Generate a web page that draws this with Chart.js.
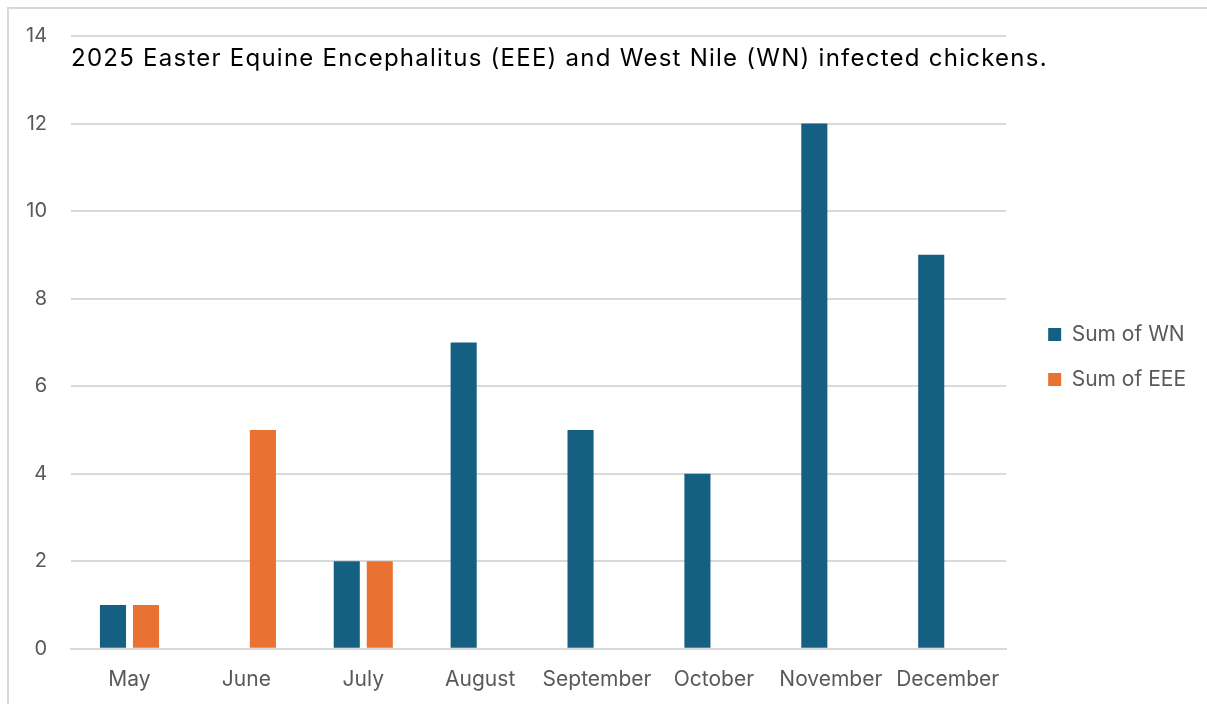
<!DOCTYPE html>
<html>
<head>
<meta charset="utf-8">
<script src="https://cdn.jsdelivr.net/npm/chart.js@4"></script>
<style>
  html, body { margin: 0; padding: 0; background: #fff; }
  #wrap { position: absolute; left: 0; top: 0; width: 1207px; height: 704px; }
  #frame { position: absolute; left: 7px; top: 7px; right: 0; bottom: 0;
           border-top: 2px solid #d9d9d9; border-left: 2px solid #d9d9d9; }
</style>
</head>
<body>
<div id="wrap">
  <div id="frame"></div>
  <canvas id="chart" width="1207" height="704"></canvas>
</div>
<script>
const months = ['May', 'June', 'July', 'August', 'September', 'October', 'November', 'December'];
const sumWN = [1, null, 2, 7, 5, 4, 12, 9];
const sumEEE = [1, 5, 2, null, null, null, null, null];
const yTicks = [0, 2, 4, 6, 8, 10, 12, 14];
const chartTitle = '2025 Easter Equine Encephalitus (EEE) and West Nile (WN) infected chickens.';

const fontName = 'Inter, "Open Sans", sans-serif';

// title sits inside the plot, just under the top gridline
const titleInside = {
    id: 'titleInside',
    afterDraw(chart) {
        const ctx = chart.ctx;
        const area = chart.chartArea;
        ctx.save();
        ctx.font = '24px ' + fontName;
        ctx.letterSpacing = '1.25px';
        ctx.fillStyle = '#000000';
        ctx.textBaseline = 'middle';
        ctx.textAlign = 'left';
        ctx.fillText(chartTitle, area.left, area.top + 23);
        ctx.restore();
    }
};

// empty axes, only used as spacers
function spacer(pos, size) {
    return {
        position: pos,
        display: true,
        grid: { display: false },
        ticks: { display: false },
        border: { display: false },
        afterFit(axis) {
            if (pos === 'top') axis.height = size; else axis.width = size;
        }
    };
}

const ctx = document.getElementById('chart');
new Chart(ctx, {
    type: 'bar',
    data: {
        labels: months,
        datasets: [
            {
                label: 'Sum of WN',
                data: sumWN,
                backgroundColor: '#156082',
                borderWidth: 0
            },
            {
                label: 'Sum of EEE',
                data: sumEEE,
                backgroundColor: '#E97132',
                borderWidth: 0
            }
        ]
    },
    options: {
        responsive: false,
        animation: false,
        layout: { padding: { left: 2, right: 11, top: 12, bottom: 2 } },
        datasets: {
            bar: { categoryPercentage: 0.565, barPercentage: 0.79 }
        },
        scales: {
            x: {
                grid: { display: false },
                border: { color: '#d9d9d9', width: 2 },
                ticks: { color: '#595959', font: { family: fontName, size: 21 }, padding: 10 }
            },
            x2: spacer('top', 14),
            y: {
                min: 0,
                max: 14,
                afterBuildTicks(axis) {
                    axis.ticks = yTicks.map(v => ({ value: v }));
                },
                grid: { color: '#d9d9d9', lineWidth: 2, drawTicks: false },
                border: { display: false },
                ticks: { color: '#595959', font: { family: fontName, size: 20 }, padding: 24 }
            },
            y2: spacer('right', 18)
        },
        plugins: {
            legend: {
                position: 'right',
                labels: {
                    boxWidth: 13,
                    boxHeight: 13,
                    padding: 24,
                    color: '#595959',
                    font: { family: fontName, size: 21 }
                }
            },
            tooltip: { enabled: false }
        }
    },
    plugins: [titleInside]
});
</script>
</body>
</html>
